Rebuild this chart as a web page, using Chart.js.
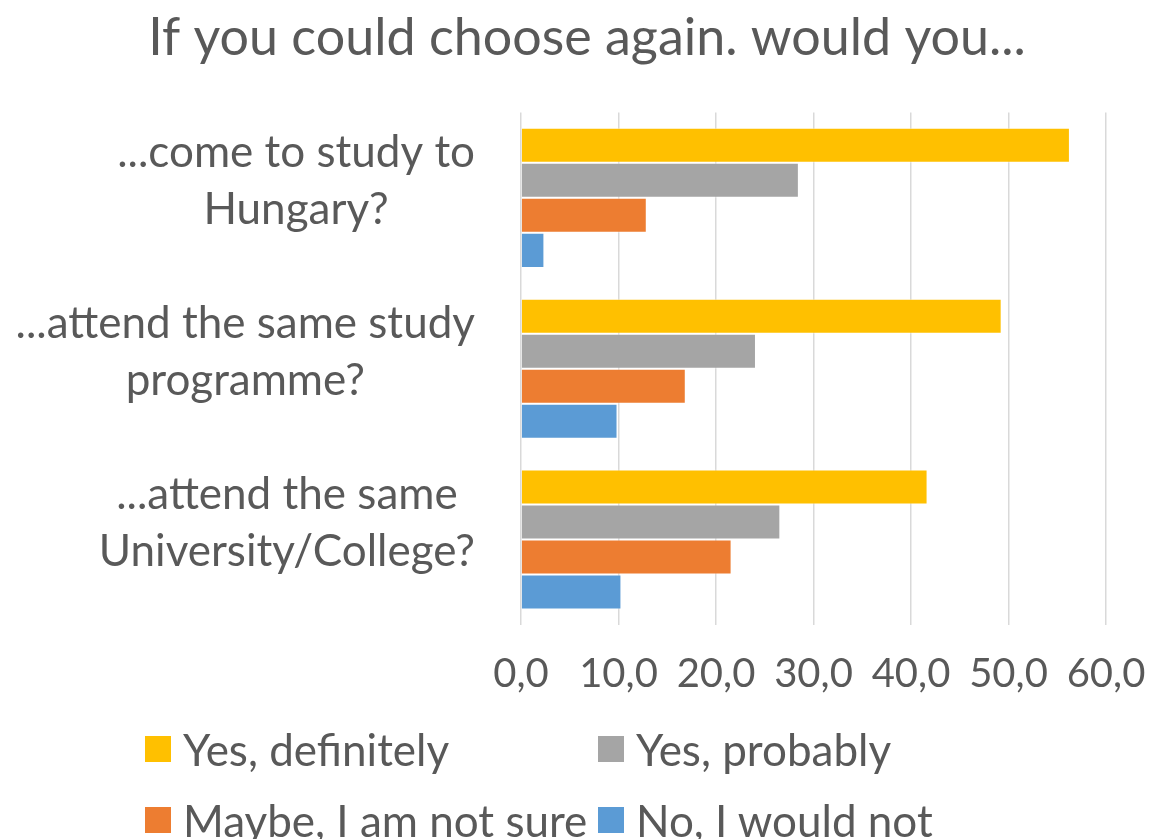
<!DOCTYPE html>
<html>
<head>
<meta charset="utf-8">
<script src="https://cdn.jsdelivr.net/npm/chart.js@4.4.1/dist/chart.umd.min.js"></script>
<style>
  body { margin: 0; background: #fff; }
  #wrap { position: relative; width: 1149px; height: 839px; }
  #legend .li { position: absolute; display: flex; align-items: center; color: #595959; white-space: nowrap; }
  #legend .li i { display: inline-block; width: 26px; height: 26px; margin-right: 12px; }
</style>
</head>
<body>
<div id="wrap">
  <canvas id="chart" width="1149" height="839"></canvas>
  <div id="legend"></div>
</div>
<script>
const categories = [
    ['...come to study to', 'Hungary?'],
    ['...attend the same study', 'programme?'],
    ['...attend the same', 'University/College?']
];
const seriesNames = ['Yes, definitely', 'Yes, probably', 'Maybe, I am not sure', 'No, I would not'];
const yesDefinitely = [56.3, 49.3, 41.7];
const yesProbably = [28.5, 24.1, 26.6];
const maybeNotSure = [12.9, 16.9, 21.6];
const noWouldNot = [2.4, 9.9, 10.3];
const xTicks = [0, 10, 20, 30, 40, 50, 60];
const colors = ['#FFC000', '#A5A5A5', '#ED7D31', '#5B9BD5'];

const FONT = 'Lato, sans-serif';
const TXT = '#595959';

// category labels: Excel centres the lines of each label inside its own block
const catLabels = {
    id: 'catLabels',
    afterDraw(chart) {
        const ctx = chart.ctx, ys = chart.scales.y;
        ctx.save();
        ctx.font = `44px ${FONT}`;
        ctx.fillStyle = TXT;
        ctx.textAlign = 'center';
        ctx.textBaseline = 'alphabetic';
        categories.forEach((lines, i) => {
            const w = Math.max(...lines.map(l => ctx.measureText(l).width));
            const cx = 475 - w / 2;
            const cy = ys.getPixelForValue(i);
            lines.forEach((l, k) => ctx.fillText(l, cx, cy - 31 + 57 * k));
        });
        ctx.restore();
    }
};

const datasets = [yesDefinitely, yesProbably, maybeNotSure, noWouldNot].map((d, i) => ({
    label: seriesNames[i],
    data: d,
    backgroundColor: colors[i],
    borderColor: 'rgba(255,255,255,0.5)',
    borderWidth: 1,
    barPercentage: 1,
    categoryPercentage: 0.82
}));

new Chart(document.getElementById('chart'), {
    type: 'bar',
    data: { labels: categories.map(c => c.join(' ')), datasets },
    options: {
        indexAxis: 'y',
        responsive: false,
        animation: false,
        layout: { padding: { left: 68, right: 43, top: 0, bottom: 116 } },
        plugins: {
            legend: { display: false },
            tooltip: { enabled: false },
            title: {
                display: true,
                text: 'If you could choose again. would you...',
                color: TXT,
                font: { family: FONT, size: 52, weight: 'normal', lineHeight: 1.2 },
                padding: { top: 7, bottom: 43 }
            }
        },
        scales: {
            x: {
                min: 0, max: 60,
                afterBuildTicks: s => { s.ticks = xTicks.map(v => ({ value: v })); },
                afterFit: s => { s.paddingLeft = 0; s.paddingRight = 0; },
                grid: { color: '#D9D9D9', lineWidth: 1.5, drawTicks: false },
                border: { display: false },
                ticks: {
                    color: TXT, padding: 25, maxRotation: 0, autoSkip: false,
                    font: { family: FONT, size: 40 },
                    callback: v => v.toFixed(1).replace('.', ',')
                }
            },
            y: {
                grid: { display: false },
                border: { display: false },
                ticks: { display: false },
                afterFit: s => { s.width = 453; }
            }
        }
    },
    plugins: [catLabels]
});

const lg = document.getElementById('legend');
const legendPos = [[145, 749], [598, 749], [145, 820], [598, 820]];
seriesNames.forEach((n, i) => {
    const el = document.createElement('div');
    el.className = 'li';
    el.style.left = legendPos[i][0] + 'px';
    el.style.top = (legendPos[i][1] - 30) + 'px';
    el.style.height = '60px';
    el.style.font = `44px ${FONT}`;
    el.innerHTML = `<i style="background:${colors[i]}"></i>${n}`;
    lg.appendChild(el);
});
</script>
</body>
</html>
